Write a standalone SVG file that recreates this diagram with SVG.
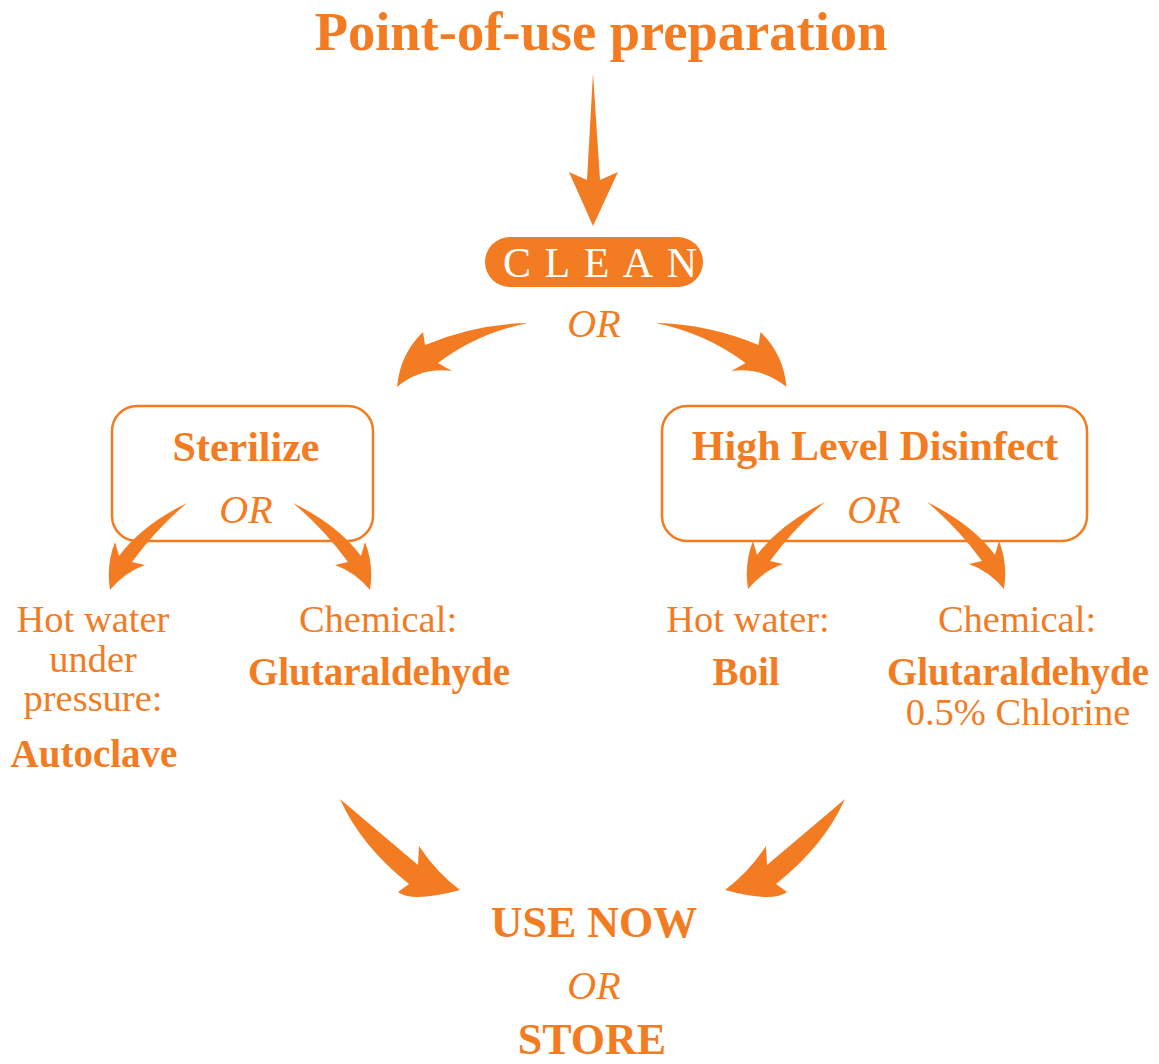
<svg xmlns="http://www.w3.org/2000/svg" xmlns:xlink="http://www.w3.org/1999/xlink" width="1159" height="1064" viewBox="0 0 1159 1064">
<style>
text{font-family:"Liberation Serif","Times New Roman",serif;fill:#F37C22;text-anchor:middle}
.b{font-weight:bold}
.r{font-size:38.5px}
.bl{font-size:39px;font-weight:bold}
.or{font-style:italic;font-size:40px}
.box{fill:#fff;stroke:#F37C22;stroke-width:2.5}
.arr{fill:#F37C22}
</style>
<defs>
<path id="smallArrow" d="M0,0 Q-45,22 -68,53 L-72,39 Q-81,62 -77,87 Q-62,69 -42,62 L-55,59 Q-30,25 0,0 Z"/>
<path id="bigArrow" d="M528,323 Q475,324 425,345 L423,332 Q400,354 397,387 Q421,367 452,371 L438,363 Q478,333 528,323 Z"/>
<path id="bottomArrow" d="M340,799 Q379,832 418,865 L419,846 Q436,872 460,890 Q412,903 398,892 L409,884 Q361,846 340,799 Z"/>
</defs>
<rect width="1159" height="1064" fill="#fff"/>
<g id="title"><text x="601" y="50" class="b" style="font-size:54.5px">Point-of-use preparation</text></g>
<g id="clean">
<rect x="485" y="237" width="218" height="50" rx="25" fill="#F37C22"/>
<text x="503" y="277" style="font-size:42px;fill:#fff;text-anchor:start;letter-spacing:13.5px">CLEAN</text>
<text x="594" y="337" class="or">OR</text>
</g>
<g id="sterilize">
<rect x="112" y="406" width="261" height="135" rx="25" class="box"/>
<text x="246" y="461" class="b" style="font-size:42px">Sterilize</text>
<text x="246" y="523" class="or">OR</text>
</g>
<g id="hld">
<rect x="662" y="406" width="425" height="135" rx="25" class="box"/>
<text x="875" y="460" class="b" style="font-size:42px">High Level Disinfect</text>
<text x="874" y="523" class="or">OR</text>
</g>
<g id="autoclave">
<text x="93" y="632" class="r">Hot water</text>
<text x="93" y="672" class="r">under</text>
<text x="93" y="711" class="r">pressure:</text>
<text x="94" y="767" class="bl">Autoclave</text>
</g>
<g id="chem-sterilize">
<text x="378" y="632" class="r">Chemical:</text>
<text x="379" y="685" class="bl">Glutaraldehyde</text>
</g>
<g id="boil">
<text x="748" y="632" class="r">Hot water:</text>
<text x="746" y="685" class="bl">Boil</text>
</g>
<g id="chem-hld">
<text x="1017" y="632" class="r">Chemical:</text>
<text x="1018" y="685" class="bl">Glutaraldehyde</text>
<text x="1018" y="725" class="r">0.5% Chlorine</text>
</g>
<g id="use-store">
<text x="594" y="937" class="b" style="font-size:44px">USE NOW</text>
<text x="594" y="999" class="or">OR</text>
<text x="592" y="1054" class="b" style="font-size:44px">STORE</text>
</g>
<g id="connectors" class="arr">
<path d="M593,73 L600,180 L618,172 L593,226 L569,172 L587,180 Z"/>
<use xlink:href="#bigArrow"/>
<use xlink:href="#bigArrow" transform="translate(1183.5,0) scale(-1,1)"/>
<use xlink:href="#smallArrow" transform="translate(187,503)"/>
<use xlink:href="#smallArrow" transform="translate(293,503) scale(-1,1)"/>
<use xlink:href="#smallArrow" transform="translate(825,502)"/>
<use xlink:href="#smallArrow" transform="translate(927,502) scale(-1,1)"/>
<use xlink:href="#bottomArrow"/>
<use xlink:href="#bottomArrow" transform="translate(1185,0) scale(-1,1)"/>
</g>
</svg>
